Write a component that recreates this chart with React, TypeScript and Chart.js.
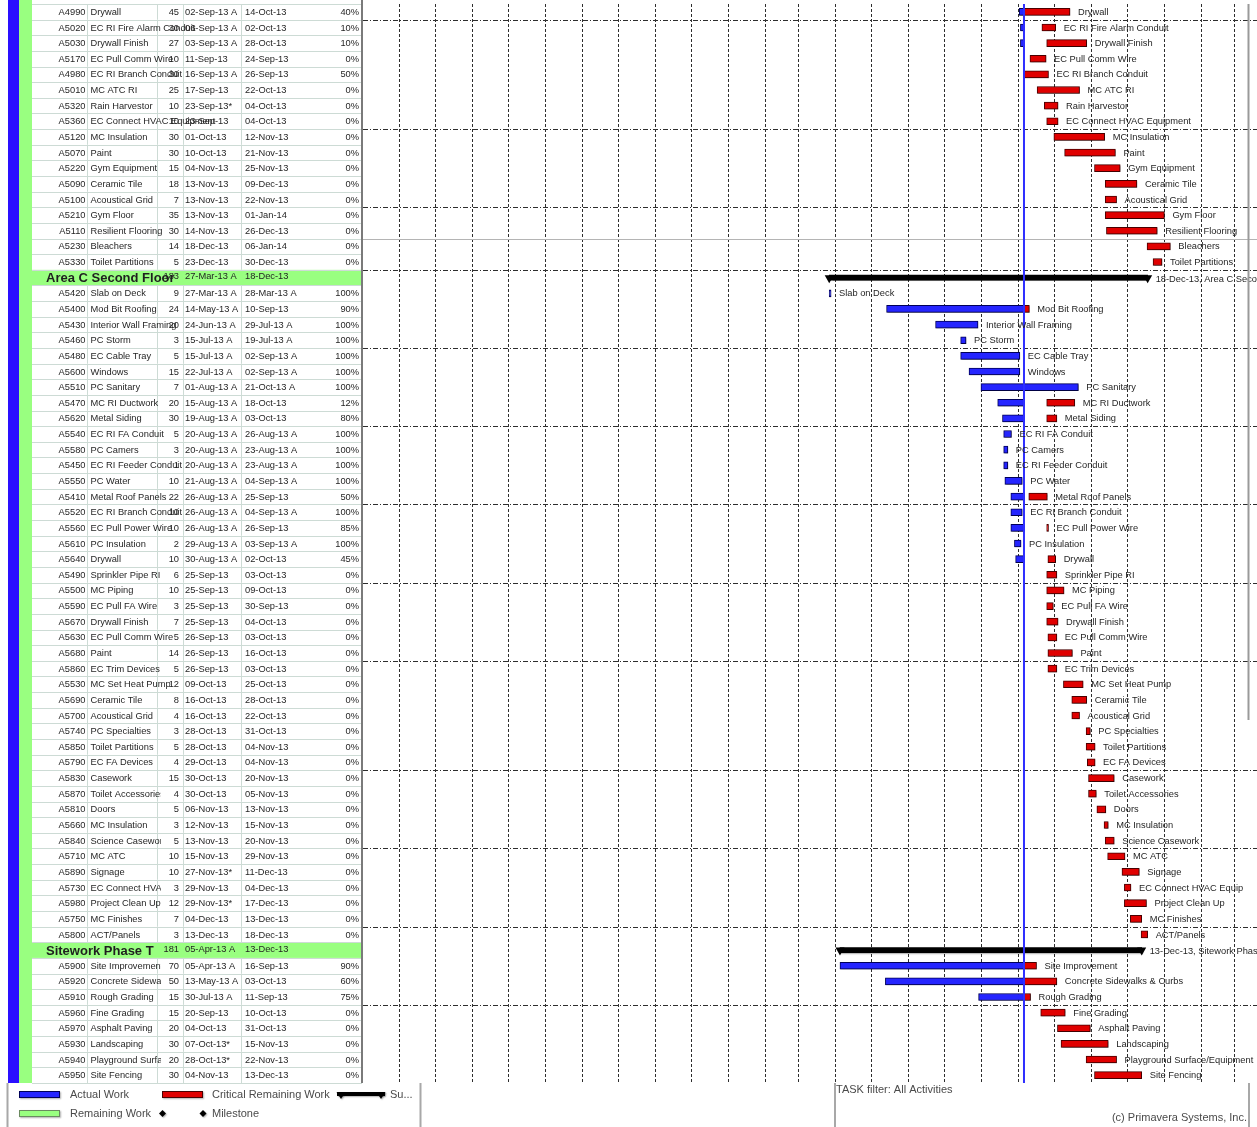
import React, { useEffect, useRef } from 'react';
import { Chart, registerables } from 'chart.js';

Chart.register(...registerables);

// ---------------- data ----------------
const ROW_IDS = [
  'A4990', 'A5020', 'A5030', 'A5170', 'A4980', 'A5010', 'A5320', 'A5360', 'A5120', 'A5070',
  'A5220', 'A5090', 'A5100', 'A5210', 'A5110', 'A5230', 'A5330', '',
  'A5420', 'A5400', 'A5430', 'A5460', 'A5480', 'A5600', 'A5510', 'A5470', 'A5620', 'A5540',
  'A5580', 'A5450', 'A5550', 'A5410', 'A5520', 'A5560', 'A5610', 'A5640', 'A5490', 'A5500',
  'A5590', 'A5670', 'A5630', 'A5680', 'A5860', 'A5530', 'A5690', 'A5700', 'A5740', 'A5850',
  'A5790', 'A5830', 'A5870', 'A5810', 'A5660', 'A5840', 'A5710', 'A5890', 'A5730', 'A5980',
  'A5750', 'A5800', '',
  'A5900', 'A5920', 'A5910', 'A5960', 'A5970', 'A5930', 'A5940', 'A5950',
];

const ROW_NAMES = [
  'Drywall', 'EC RI Fire Alarm Conduit', 'Drywall Finish', 'EC Pull Comm Wire', 'EC RI Branch Conduit', 'MC ATC RI', 'Rain Harvestor', 'EC Connect HVAC Equipment', 'MC Insulation', 'Paint',
  'Gym Equipment', 'Ceramic Tile', 'Acoustical Grid', 'Gym Floor', 'Resilient Flooring', 'Bleachers', 'Toilet Partitions', 'Area C Second Floor',
  'Slab on Deck', 'Mod Bit Roofing', 'Interior Wall Framing', 'PC Storm', 'EC Cable Tray', 'Windows', 'PC Sanitary', 'MC RI Ductwork', 'Metal Siding', 'EC RI FA Conduit',
  'PC Camers', 'EC RI Feeder Conduit', 'PC Water', 'Metal Roof Panels', 'EC RI Branch Conduit', 'EC Pull Power Wire', 'PC Insulation', 'Drywall', 'Sprinkler Pipe RI', 'MC Piping',
  'EC Pull FA Wire', 'Drywall Finish', 'EC Pull Comm Wire', 'Paint', 'EC Trim Devices', 'MC Set Heat Pump', 'Ceramic Tile', 'Acoustical Grid', 'PC Specialties', 'Toilet Partitions',
  'EC FA Devices', 'Casework', 'Toilet Accessories', 'Doors', 'MC Insulation', 'Science Casework', 'MC ATC', 'Signage', 'EC Connect HVAC Equip', 'Project Clean Up',
  'MC Finishes', 'ACT/Panels', 'Sitework Phase T',
  'Site Improvement', 'Concrete Sidewalks & Curbs', 'Rough Grading', 'Fine Grading', 'Asphalt Paving', 'Landscaping', 'Playground Surface/Equipment', 'Site Fencing',
];

const DURATIONS = [
  45, 30, 27, 10, 30, 25, 10, 10, 30, 30,
  15, 18, 7, 35, 30, 14, 5, 183,
  9, 24, 20, 3, 5, 15, 7, 20, 30, 5,
  3, 1, 10, 22, 10, 10, 2, 10, 6, 10,
  3, 7, 5, 14, 5, 12, 8, 4, 3, 5,
  4, 15, 4, 5, 3, 5, 10, 10, 3, 12,
  7, 3, 181,
  70, 50, 15, 15, 20, 30, 20, 30,
];

const START_DATES = [
  '02-Sep-13 A', '06-Sep-13 A', '03-Sep-13 A', '11-Sep-13', '16-Sep-13 A', '17-Sep-13', '23-Sep-13*', '23-Sep-13', '01-Oct-13', '10-Oct-13',
  '04-Nov-13', '13-Nov-13', '13-Nov-13', '13-Nov-13', '14-Nov-13', '18-Dec-13', '23-Dec-13', '27-Mar-13 A',
  '27-Mar-13 A', '14-May-13 A', '24-Jun-13 A', '15-Jul-13 A', '15-Jul-13 A', '22-Jul-13 A', '01-Aug-13 A', '15-Aug-13 A', '19-Aug-13 A', '20-Aug-13 A',
  '20-Aug-13 A', '20-Aug-13 A', '21-Aug-13 A', '26-Aug-13 A', '26-Aug-13 A', '26-Aug-13 A', '29-Aug-13 A', '30-Aug-13 A', '25-Sep-13', '25-Sep-13',
  '25-Sep-13', '25-Sep-13', '26-Sep-13', '26-Sep-13', '26-Sep-13', '09-Oct-13', '16-Oct-13', '16-Oct-13', '28-Oct-13', '28-Oct-13',
  '29-Oct-13', '30-Oct-13', '30-Oct-13', '06-Nov-13', '12-Nov-13', '13-Nov-13', '15-Nov-13', '27-Nov-13*', '29-Nov-13', '29-Nov-13*',
  '04-Dec-13', '13-Dec-13', '05-Apr-13 A',
  '05-Apr-13 A', '13-May-13 A', '30-Jul-13 A', '20-Sep-13', '04-Oct-13', '07-Oct-13*', '28-Oct-13*', '04-Nov-13',
];

const FINISH_DATES = [
  '14-Oct-13', '02-Oct-13', '28-Oct-13', '24-Sep-13', '26-Sep-13', '22-Oct-13', '04-Oct-13', '04-Oct-13', '12-Nov-13', '21-Nov-13',
  '25-Nov-13', '09-Dec-13', '22-Nov-13', '01-Jan-14', '26-Dec-13', '06-Jan-14', '30-Dec-13', '18-Dec-13',
  '28-Mar-13 A', '10-Sep-13', '29-Jul-13 A', '19-Jul-13 A', '02-Sep-13 A', '02-Sep-13 A', '21-Oct-13 A', '18-Oct-13', '03-Oct-13', '26-Aug-13 A',
  '23-Aug-13 A', '23-Aug-13 A', '04-Sep-13 A', '25-Sep-13', '04-Sep-13 A', '26-Sep-13', '03-Sep-13 A', '02-Oct-13', '03-Oct-13', '09-Oct-13',
  '30-Sep-13', '04-Oct-13', '03-Oct-13', '16-Oct-13', '03-Oct-13', '25-Oct-13', '28-Oct-13', '22-Oct-13', '31-Oct-13', '04-Nov-13',
  '04-Nov-13', '20-Nov-13', '05-Nov-13', '13-Nov-13', '15-Nov-13', '20-Nov-13', '29-Nov-13', '11-Dec-13', '04-Dec-13', '17-Dec-13',
  '13-Dec-13', '18-Dec-13', '13-Dec-13',
  '16-Sep-13', '03-Oct-13', '11-Sep-13', '10-Oct-13', '31-Oct-13', '15-Nov-13', '22-Nov-13', '13-Dec-13',
];

const PERCENTS = [
  '40%', '10%', '10%', '0%', '50%', '0%', '0%', '0%', '0%', '0%',
  '0%', '0%', '0%', '0%', '0%', '0%', '0%', '',
  '100%', '90%', '100%', '100%', '100%', '100%', '100%', '12%', '80%', '100%',
  '100%', '100%', '100%', '50%', '100%', '85%', '100%', '45%', '0%', '0%',
  '0%', '0%', '0%', '0%', '0%', '0%', '0%', '0%', '0%', '0%',
  '0%', '0%', '0%', '0%', '0%', '0%', '0%', '0%', '0%', '0%',
  '0%', '0%', '',
  '90%', '60%', '75%', '0%', '0%', '0%', '0%', '0%',
];

const N = null;

// Actual work (blue) segments, [start, finish]
const ACTUAL_BARS: ([string, string] | null)[] = [
  ['02-Sep-13', '06-Sep-13'], ['03-Sep-13', '06-Sep-13'], ['03-Sep-13', '06-Sep-13'], N, N, N, N, N, N, N,
  N, N, N, N, N, N, N, N,
  ['27-Mar-13', '28-Mar-13'], ['14-May-13', '06-Sep-13'], ['24-Jun-13', '29-Jul-13'], ['15-Jul-13', '19-Jul-13'], ['15-Jul-13', '02-Sep-13'], ['22-Jul-13', '02-Sep-13'], ['01-Aug-13', '21-Oct-13'], ['15-Aug-13', '06-Sep-13'], ['19-Aug-13', '06-Sep-13'], ['20-Aug-13', '26-Aug-13'],
  ['20-Aug-13', '23-Aug-13'], ['20-Aug-13', '23-Aug-13'], ['21-Aug-13', '04-Sep-13'], ['26-Aug-13', '06-Sep-13'], ['26-Aug-13', '04-Sep-13'], ['26-Aug-13', '06-Sep-13'], ['29-Aug-13', '03-Sep-13'], ['30-Aug-13', '06-Sep-13'], N, N,
  N, N, N, N, N, N, N, N, N, N,
  N, N, N, N, N, N, N, N, N, N,
  N, N, N,
  ['05-Apr-13', '06-Sep-13'], ['13-May-13', '06-Sep-13'], ['30-Jul-13', '06-Sep-13'], N, N, N, N, N,
];

// Critical remaining work (red) segments, [start, finish]
const REMAINING_BARS: ([string, string] | null)[] = [
  ['06-Sep-13', '14-Oct-13'], ['21-Sep-13', '02-Oct-13'], ['25-Sep-13', '28-Oct-13'], ['11-Sep-13', '24-Sep-13'], ['06-Sep-13', '26-Sep-13'], ['17-Sep-13', '22-Oct-13'], ['23-Sep-13', '04-Oct-13'], ['25-Sep-13', '04-Oct-13'], ['01-Oct-13', '12-Nov-13'], ['10-Oct-13', '21-Nov-13'],
  ['04-Nov-13', '25-Nov-13'], ['13-Nov-13', '09-Dec-13'], ['13-Nov-13', '22-Nov-13'], ['13-Nov-13', '01-Jan-14'], ['14-Nov-13', '26-Dec-13'], ['18-Dec-13', '06-Jan-14'], ['23-Dec-13', '30-Dec-13'], N,
  N, ['06-Sep-13', '10-Sep-13'], N, N, N, N, N, ['25-Sep-13', '18-Oct-13'], ['25-Sep-13', '03-Oct-13'], N,
  N, N, N, ['10-Sep-13', '25-Sep-13'], N, ['25-Sep-13', '26-Sep-13'], N, ['26-Sep-13', '02-Oct-13'], ['25-Sep-13', '03-Oct-13'], ['25-Sep-13', '09-Oct-13'],
  ['25-Sep-13', '30-Sep-13'], ['25-Sep-13', '04-Oct-13'], ['26-Sep-13', '03-Oct-13'], ['26-Sep-13', '16-Oct-13'], ['26-Sep-13', '03-Oct-13'], ['09-Oct-13', '25-Oct-13'], ['16-Oct-13', '28-Oct-13'], ['16-Oct-13', '22-Oct-13'], ['28-Oct-13', '31-Oct-13'], ['28-Oct-13', '04-Nov-13'],
  ['29-Oct-13', '04-Nov-13'], ['30-Oct-13', '20-Nov-13'], ['30-Oct-13', '05-Nov-13'], ['06-Nov-13', '13-Nov-13'], ['12-Nov-13', '15-Nov-13'], ['13-Nov-13', '20-Nov-13'], ['15-Nov-13', '29-Nov-13'], ['27-Nov-13', '11-Dec-13'], ['29-Nov-13', '04-Dec-13'], ['29-Nov-13', '17-Dec-13'],
  ['04-Dec-13', '13-Dec-13'], ['13-Dec-13', '18-Dec-13'], N,
  ['06-Sep-13', '16-Sep-13'], ['06-Sep-13', '03-Oct-13'], ['06-Sep-13', '11-Sep-13'], ['20-Sep-13', '10-Oct-13'], ['04-Oct-13', '31-Oct-13'], ['07-Oct-13', '15-Nov-13'], ['28-Oct-13', '22-Nov-13'], ['04-Nov-13', '13-Dec-13'],
];

// Summary bars for the WBS group rows
const SUMMARY_BARS: ([string, string] | null)[] = ROW_IDS.map((id, i) =>
  id ? null : [START_DATES[i].slice(0, 9), FINISH_DATES[i].slice(0, 9)] as [string, string]
);

const DATA_DATE = '06-Sep-13';
const AXIS_START = '01-Mar-12';
const AXIS_END = '20-Mar-14';
// horizontal dashed separators after these row counts
const BAND_BREAKS = [1, 8, 13, 17, 22, 27, 32, 37, 42, 49, 54, 59, 64];
// rows above the page seam are not clipped to the name column
const UNCLIPPED_ROWS = 46;
// faint page-seam line after this row count
const SEAM_ROW = 15;

const LEGEND_ROW1 = ['Actual Work', 'Critical Remaining Work', 'Su...'];
const LEGEND_ROW2 = ['Remaining Work', 'Milestone'];
const FILTER_TEXT = 'TASK filter: All Activities';
const COPYRIGHT_TEXT = '(c) Primavera Systems, Inc.';

// ---------------- helpers ----------------
const MONTHS = ['Jan', 'Feb', 'Mar', 'Apr', 'May', 'Jun', 'Jul', 'Aug', 'Sep', 'Oct', 'Nov', 'Dec'];
const dayNum = (s: string) => {
  const p = s.trim().slice(0, 9).split('-');
  return Date.UTC(2000 + Number(p[2]), MONTHS.indexOf(p[1]), Number(p[0])) / 86400000;
};
const ROW_KEYS = ROW_IDS.map((id, i) => id || ROW_NAMES[i]);
const toPoints = (bars: ([string, string] | null)[]) =>
  bars
    .map((b, i) => (b ? { x: [dayNum(b[0]), dayNum(b[1]) + 0.5], y: ROW_KEYS[i] } : null))
    .filter(Boolean) as any[];

const FONT = '"Liberation Sans", Arial, Helvetica, sans-serif';
const TEXT = '#1f1f1f';
const BLUE = '#2525ff';
const RED = '#e00000';
const GREEN = '#99ff80';
const COL_LINES = [87.5, 157.5, 183.5, 241.5];

const ganttPlugin = {
  id: 'gantt',
  beforeDraw(chart: any) {
    const { ctx, chartArea: ca } = chart;
    const xs = chart.scales.x;
    const ys = chart.scales.y;
    const n = ROW_IDS.length;
    const h = (ca.bottom - ca.top) / n;
    ctx.save();
    ctx.fillStyle = '#ffffff';
    ctx.fillRect(0, 0, chart.width, chart.height);

    // left colour strips
    ctx.fillStyle = '#2a0fff';
    ctx.fillRect(8, 0, 11, ca.bottom);
    ctx.fillStyle = GREEN;
    ctx.fillRect(19, 0, 13, ca.bottom);

    // group bands
    for (let i = 0; i < n; i++) {
      if (ROW_IDS[i]) continue;
      const cy = ys.getPixelForValue(i);
      ctx.fillStyle = GREEN;
      ctx.fillRect(32, cy - h / 2, 330, h);
    }

    // row lines
    ctx.strokeStyle = '#cddbd5';
    ctx.lineWidth = 1;
    ctx.beginPath();
    for (let i = 0; i <= n; i++) {
      const yy = Math.round(ca.top + i * h) + 0.5;
      ctx.moveTo(32, yy);
      ctx.lineTo(362, yy);
    }
    ctx.stroke();
    ctx.beginPath();
    for (let i = 0; i < n; i++) {
      if (!ROW_IDS[i]) continue;
      const t = ca.top + i * h;
      for (const cx of COL_LINES) {
        ctx.moveTo(cx, t);
        ctx.lineTo(cx, t + h);
      }
    }
    ctx.stroke();

    // table right border
    ctx.strokeStyle = '#7a7a7a';
    ctx.lineWidth = 2;
    ctx.beginPath();
    ctx.moveTo(362, 0);
    ctx.lineTo(362, ca.bottom);
    ctx.stroke();

    // table text
    ctx.textBaseline = 'middle';
    ctx.fillStyle = TEXT;
    const small = `9.3px ${FONT}`;
    for (let i = 0; i < n; i++) {
      const cy = ys.getPixelForValue(i) + 0.5;
      const clip = i >= UNCLIPPED_ROWS;
      ctx.font = small;
      if (ROW_IDS[i]) {
        ctx.textAlign = 'right';
        ctx.fillText(ROW_IDS[i], 85.5, cy);
        ctx.save();
        if (clip) {
          ctx.beginPath();
          ctx.rect(88, cy - h / 2, 73, h);
          ctx.clip();
        }
        ctx.textAlign = 'left';
        ctx.fillText(ROW_NAMES[i], 90.5, cy);
        ctx.restore();
        ctx.textAlign = 'right';
        ctx.fillText(String(DURATIONS[i]), 179, cy);
        ctx.textAlign = 'left';
        ctx.fillText(START_DATES[i], 185, cy);
        ctx.fillText(FINISH_DATES[i], 245, cy);
        ctx.textAlign = 'right';
        ctx.fillText(PERCENTS[i], 359, cy);
      } else {
        ctx.save();
        ctx.font = `bold 13px ${FONT}`;
        if (clip) {
          ctx.beginPath();
          ctx.rect(40, cy - h / 2, 121, h);
          ctx.clip();
        }
        ctx.textAlign = 'left';
        ctx.fillText(ROW_NAMES[i], 46, cy + 0.5);
        ctx.restore();
        ctx.font = small;
        ctx.textAlign = 'right';
        ctx.fillText(String(DURATIONS[i]), 179, cy - 1.5);
        ctx.textAlign = 'left';
        ctx.fillText(START_DATES[i], 185, cy - 1.5);
        ctx.fillText(FINISH_DATES[i], 245, cy - 1.5);
      }
    }

    // month grid lines
    const lo = dayNum(AXIS_START);
    const hi = dayNum(AXIS_END);
    ctx.strokeStyle = '#2e2e2e';
    ctx.lineWidth = 1;
    ctx.setLineDash([3, 2]);
    ctx.beginPath();
    for (let yy = 2012; yy <= 2014; yy++) {
      for (let m = 0; m < 12; m++) {
        const d = Date.UTC(yy, m, 1) / 86400000;
        if (d <= lo || d >= hi) continue;
        const px = Math.round(xs.getPixelForValue(d)) + 0.5;
        ctx.moveTo(px, ca.top);
        ctx.lineTo(px, ca.bottom);
      }
    }
    ctx.stroke();

    // band separators
    ctx.setLineDash([5, 2, 1, 2]);
    ctx.beginPath();
    for (const k of BAND_BREAKS) {
      const yy = Math.round(ca.top + k * h) + 0.5;
      ctx.moveTo(363, yy);
      ctx.lineTo(ca.right, yy);
    }
    ctx.stroke();
    ctx.setLineDash([]);

    // faint page seam
    ctx.strokeStyle = '#b4b4b4';
    ctx.beginPath();
    const sy = Math.round(ca.top + SEAM_ROW * h) + 0.5;
    ctx.moveTo(363, sy);
    ctx.lineTo(ca.right, sy);
    ctx.stroke();
    ctx.restore();
  },
  beforeDatasetsDraw(chart: any) {
    const ctx = chart.ctx;
    ctx.save();
    ctx.shadowColor = 'rgba(0,0,0,0.32)';
    ctx.shadowBlur = 1.5;
    ctx.shadowOffsetX = 1;
    ctx.shadowOffsetY = 1;
  },
  afterDatasetsDraw(chart: any) {
    const { ctx, chartArea: ca } = chart;
    ctx.restore();
    const xs = chart.scales.x;
    const ys = chart.scales.y;
    const n = ROW_IDS.length;

    // data date line
    const dd = xs.getPixelForValue(dayNum(DATA_DATE));
    ctx.save();
    ctx.strokeStyle = '#2f2fff';
    ctx.lineWidth = 2;
    ctx.beginPath();
    ctx.moveTo(dd, ca.top);
    ctx.lineTo(dd, ca.bottom);
    ctx.stroke();

    // summary end triangles + labels
    ctx.font = `9.3px ${FONT}`;
    ctx.textBaseline = 'middle';
    ctx.textAlign = 'left';
    for (let i = 0; i < n; i++) {
      const cy = ys.getPixelForValue(i);
      const sb = SUMMARY_BARS[i];
      if (sb) {
        const s = xs.getPixelForValue(dayNum(sb[0]));
        const e = xs.getPixelForValue(dayNum(sb[1]) + 0.5);
        ctx.fillStyle = '#000';
        for (const px of [s, e]) {
          ctx.beginPath();
          ctx.moveTo(px - 4.5, cy - 2.5);
          ctx.lineTo(px + 4.5, cy - 2.5);
          ctx.lineTo(px, cy + 5.5);
          ctx.closePath();
          ctx.fill();
        }
        ctx.fillStyle = TEXT;
        ctx.fillText(`${FINISH_DATES[i]}, ${ROW_NAMES[i]}`, e + 8, cy + 1.5);
        continue;
      }
      const ends = [ACTUAL_BARS[i], REMAINING_BARS[i]]
        .filter(Boolean)
        .map((b: any) => dayNum(b[1]) + 0.5);
      if (!ends.length) continue;
      const px = xs.getPixelForValue(Math.max(...ends));
      ctx.fillStyle = TEXT;
      ctx.fillText(ROW_NAMES[i], px + 8, cy + 0.5);
    }
    ctx.restore();
  },
  afterDraw(chart: any) {
    const { ctx, chartArea: ca } = chart;
    ctx.save();
    // right border of chart (upper part)
    ctx.strokeStyle = '#9a9a9a';
    ctx.lineWidth = 2;
    ctx.beginPath();
    ctx.moveTo(1248.5, ca.top);
    ctx.lineTo(1248.5, 720);
    ctx.stroke();

    // legend frame lines
    ctx.strokeStyle = '#a8a8a8';
    ctx.beginPath();
    for (const lx of [7.5, 420.5, 835, 1249]) {
      ctx.moveTo(lx, ca.bottom);
      ctx.lineTo(lx, chart.height);
    }
    ctx.stroke();

    // legend symbols
    ctx.shadowColor = 'rgba(0,0,0,0.3)';
    ctx.shadowBlur = 1.5;
    ctx.shadowOffsetX = 1;
    ctx.shadowOffsetY = 1;
    const box = (x: number, y: number, fill: string, stroke: string) => {
      ctx.fillStyle = fill;
      ctx.fillRect(x, y, 41, 7);
      ctx.shadowColor = 'transparent';
      ctx.strokeStyle = stroke;
      ctx.lineWidth = 1;
      ctx.strokeRect(x + 0.5, y + 0.5, 40, 6);
      ctx.shadowColor = 'rgba(0,0,0,0.3)';
    };
    box(19, 1091, BLUE, '#00005a');
    box(162, 1091, RED, '#4a0000');
    box(19, 1110, GREEN, '#6a8a60');
    // summary symbol
    ctx.fillStyle = '#000';
    ctx.fillRect(337, 1092, 48, 4);
    for (const px of [341, 381]) {
      ctx.beginPath();
      ctx.moveTo(px - 4.5, 1092);
      ctx.lineTo(px + 4.5, 1092);
      ctx.lineTo(px, 1099);
      ctx.closePath();
      ctx.fill();
    }
    // milestone diamonds
    for (const px of [162.5, 203]) {
      ctx.beginPath();
      ctx.moveTo(px, 1110);
      ctx.lineTo(px + 3.5, 1113.5);
      ctx.lineTo(px, 1117);
      ctx.lineTo(px - 3.5, 1113.5);
      ctx.closePath();
      ctx.fill();
    }
    ctx.shadowColor = 'transparent';

    ctx.font = `11px ${FONT}`;
    ctx.fillStyle = '#4a4a4a';
    ctx.textBaseline = 'middle';
    ctx.textAlign = 'left';
    ctx.fillText(LEGEND_ROW1[0], 70, 1095);
    ctx.fillText(LEGEND_ROW1[1], 212, 1095);
    ctx.fillText(LEGEND_ROW1[2], 390, 1095);
    ctx.fillText(LEGEND_ROW2[0], 70, 1114);
    ctx.fillText(LEGEND_ROW2[1], 212, 1114);
    ctx.fillText(FILTER_TEXT, 836, 1090);
    ctx.textAlign = 'right';
    ctx.fillText(COPYRIGHT_TEXT, 1247, 1118);
    ctx.restore();
  },
};

export default function App() {
  const ref = useRef<HTMLCanvasElement | null>(null);
  useEffect(() => {
    if (!ref.current) return;
    const chart = new Chart(ref.current, {
      type: 'bar',
      data: {
        labels: ROW_KEYS,
        datasets: [
          {
            label: 'Actual Work',
            data: toPoints(ACTUAL_BARS),
            backgroundColor: BLUE,
            borderColor: '#00005a',
            borderWidth: 1,
            borderSkipped: false,
            barThickness: 7,
            grouped: false,
          } as any,
          {
            label: 'Critical Remaining Work',
            data: toPoints(REMAINING_BARS),
            backgroundColor: RED,
            borderColor: '#4a0000',
            borderWidth: 1,
            borderSkipped: false,
            barThickness: 7,
            grouped: false,
          } as any,
          {
            label: 'Summary',
            data: toPoints(SUMMARY_BARS),
            backgroundColor: '#000000',
            borderWidth: 0,
            barThickness: 5,
            grouped: false,
          } as any,
        ],
      },
      options: {
        indexAxis: 'y',
        responsive: false,
        animation: false,
        devicePixelRatio: 1,
        events: [],
        layout: { padding: { left: 362, right: 0, top: 4, bottom: 44 } },
        scales: {
          x: { type: 'linear', min: dayNum(AXIS_START), max: dayNum(AXIS_END), display: false },
          y: { type: 'category', offset: true, display: false },
        },
        plugins: { legend: { display: false }, tooltip: { enabled: false } },
      } as any,
      plugins: [ganttPlugin],
    });
    return () => chart.destroy();
  }, []);

  return (
    <div style={{ position: 'fixed', left: 0, top: 0, width: 1257, height: 1127, overflow: 'hidden', background: '#fff' }}>
      <canvas ref={ref} width={1257} height={1127} style={{ display: 'block', width: 1257, height: 1127 }} />
    </div>
  );
}
